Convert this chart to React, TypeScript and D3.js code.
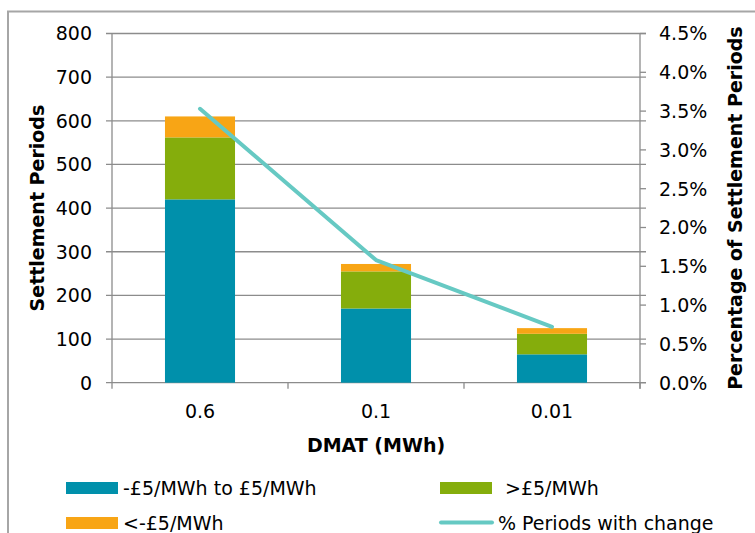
import React from "react";
import * as d3 from "d3";

const categories = ["0.6", "0.1", "0.01"];
const midBand = [420, 170, 65];
const above = [142, 85, 47];
const below = [48, 17, 13];
const pctChange = [3.53, 1.58, 0.72];
const leftTicks = [0, 100, 200, 300, 400, 500, 600, 700, 800];
const rightTicks = [0, 0.5, 1, 1.5, 2, 2.5, 3, 3.5, 4, 4.5];
const seriesNames = ["-£5/MWh to £5/MWh", ">£5/MWh", "<-£5/MWh", "% Periods with change"];

const W = 755, H = 533;
const L = 112, R = 640, T = 33.5, B = 382.7;
const FONT = "'DejaVu Sans', Verdana, sans-serif";
const colors = ["#0090ab", "#85ad0c", "#f8a515"];
const lineColor = "#66c9c3";
const gridColor = "#8c8c8c";

export default function App() {
  const x = d3.scaleBand<string>().domain(categories).range([L, R]).paddingInner(0.602).paddingOuter(0.301);
  const y = d3.scaleLinear().domain([0, 800]).range([B, T]);
  const y2 = d3.scaleLinear().domain([0, 4.5]).range([B, T]);
  const rows = categories.map((c, i) => ({ c, a: midBand[i], b: above[i], o: below[i] }));
  const stack = d3.stack<any>().keys(["a", "b", "o"])(rows);
  const step = x.step();
  const line = d3.line<number>().x((_, i) => x(categories[i])! + x.bandwidth() / 2).y((d) => y2(d));
  const fs = 19;
  return (
    <svg width={W} height={H} style={{ position: "absolute", left: 0, top: 0, background: "#fff" }} fontFamily={FONT}>
      <rect x={8} y={11.5} width={W} height={H} fill="none" stroke="#a6a6a6" strokeWidth={2} />
      {leftTicks.map((t) => (
        <line key={"g" + t} x1={L - 6} x2={R + 6} y1={y(t)} y2={y(t)} stroke={gridColor} strokeWidth={1.3} />
      ))}
      <line x1={L} x2={L} y1={T} y2={B + 6} stroke={gridColor} strokeWidth={1.3} />
      <line x1={R} x2={R} y1={T} y2={B + 6} stroke={gridColor} strokeWidth={1.3} />
      {rightTicks.map((t) => (
        <line key={"r" + t} x1={R} x2={R + 6} y1={y2(t)} y2={y2(t)} stroke={gridColor} strokeWidth={1.3} />
      ))}
      {categories.map((c, i) => (
        <line key={"xt" + c} x1={L + step * (i + 1)} x2={L + step * (i + 1)} y1={B} y2={B + 6} stroke={gridColor} strokeWidth={1.3} />
      ))}
      {stack.map((s, si) =>
        s.map((d, i) => (
          <rect key={si + "-" + i} x={x(categories[i])} width={x.bandwidth()} y={y(d[1])} height={y(d[0]) - y(d[1])} fill={colors[si]} />
        ))
      )}
      <path d={line(pctChange) || ""} fill="none" stroke={lineColor} strokeWidth={4} strokeLinecap="round" strokeLinejoin="round" />
      {leftTicks.map((t) => (
        <text key={"lt" + t} x={92} y={y(t)} dy="0.36em" textAnchor="end" fontSize={fs} fill="#000">{t}</text>
      ))}
      {rightTicks.map((t) => (
        <text key={"rt" + t} x={659} y={y2(t)} dy="0.36em" textAnchor="start" fontSize={fs} fill="#000">{t.toFixed(1) + "%"}</text>
      ))}
      {categories.map((c) => (
        <text key={"cl" + c} x={x(c)! + x.bandwidth() / 2} y={418} textAnchor="middle" fontSize={fs} fill="#000">{c}</text>
      ))}
      <text x={376} y={452} textAnchor="middle" fontSize={fs} fontWeight="bold">DMAT (MWh)</text>
      <text transform={`translate(44,${(T + B) / 2}) rotate(-90)`} textAnchor="middle" fontSize={fs} fontWeight="bold">Settlement Periods</text>
      <text transform={`translate(742,${(T + B) / 2}) rotate(-90)`} textAnchor="middle" fontSize={fs} fontWeight="bold">Percentage of Settlement Periods</text>
      <g fontSize={fs}>
        <rect x={66} y={482} width={52} height={12} fill={colors[0]} />
        <text x={123} y={495}>{seriesNames[0]}</text>
        <rect x={440} y={482} width={52} height={12} fill={colors[1]} />
        <text x={505} y={495}>{seriesNames[1]}</text>
        <rect x={66} y={517} width={52} height={12} fill={colors[2]} />
        <text x={123} y={530}>{seriesNames[2]}</text>
        <line x1={441} x2={492} y1={522.5} y2={522.5} stroke={lineColor} strokeWidth={4} strokeLinecap="round" />
        <text x={498} y={530}>{seriesNames[3]}</text>
      </g>
    </svg>
  );
}
